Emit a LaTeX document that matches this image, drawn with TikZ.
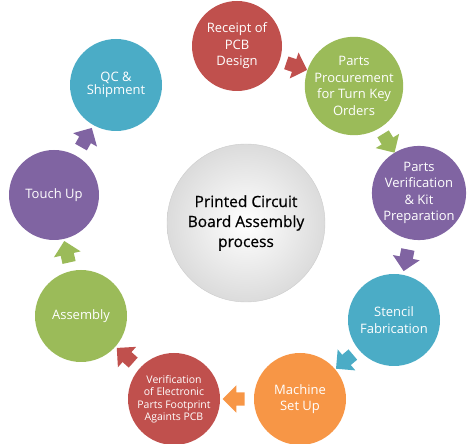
\documentclass[tikz,border=0pt]{standalone}
\usepackage{fontspec}
\setmainfont{Open Sans}
\newfontfamily\hubfont[FakeBold=0.6]{Open Sans}
\usepackage{xcolor}
\usepackage{tikz}
\usetikzlibrary{shapes.arrows}

\definecolor{pcbred}{HTML}{C0504D}
\definecolor{pcbgreen}{HTML}{9BBB59}
\definecolor{pcbpurple}{HTML}{8064A2}
\definecolor{pcbteal}{HTML}{4BACC6}
\definecolor{pcborange}{HTML}{F79646}

\begin{document}
\begin{tikzpicture}[x=1pt,y=1pt,
    stage/.style={circle,inner sep=0pt,text=white,align=center,
        font=\fontsize{13}{16.5}\selectfont},
    flow/.style={single arrow,draw=none,sloped,allow upside down,
        inner xsep=0pt,inner ysep=6.5pt,minimum height=22pt,
        single arrow head extend=7pt}]
    \useasboundingbox (0,0) rectangle (474,444);
    % Centre circle
    \node[circle,minimum size=158pt,draw=gray!40,inner color=white,outer color=gray!28,
        align=center,text=black,font=\hubfont\fontsize{15.5}{20}\selectfont] (hub) at (246,221)
        {Printed Circuit\\Board Assembly\\process};
    % Process stages
    \node[stage,fill=pcbred,minimum size=90pt] (rcpt) at (237,398) {Receipt of\\PCB\\Design};
    \node[stage,fill=pcbgreen,minimum size=90pt] (proc) at (354,358) {Parts\\Procurement\\for Turn Key\\Orders};
    \node[stage,fill=pcbpurple,minimum size=88pt] (verif) at (419,251) {Parts\\Verification\\\& Kit\\Preparation};
    \node[stage,fill=pcbteal,minimum size=92pt] (stncl) at (394,124) {Stencil\\Fabrication};
    \node[stage,fill=pcborange,minimum size=92pt] (mach) at (300,45) {Machine\\Set Up};
    \node[stage,fill=pcbred,minimum size=92pt,font=\fontsize{10.5}{12.5}\selectfont] (footp) at (174,45)
        {Verification\\of Electronic\\Parts Footprint\\Againts PCB};
    \node[stage,fill=pcbgreen,minimum size=92pt] (asmb) at (81,128) {Assembly};
    \node[stage,fill=pcbpurple,minimum size=90pt] (tchup) at (54,249) {Touch Up};
    \node[stage,fill=pcbteal,minimum size=92pt,font=\fontsize{13}{12.5}\selectfont] (qcsh) at (116,359) {QC \&\\Shipment};
    % Block arrows between stages
    \foreach \a/\b/\c in {rcpt/proc/pcbred,proc/verif/pcbgreen,verif/stncl/pcbpurple,
        stncl/mach/pcbteal,mach/footp/pcborange,footp/asmb/pcbred,
        asmb/tchup/pcbgreen,tchup/qcsh/pcbpurple}
        \path (\a) -- node[flow,fill=\c] {} (\b);
\end{tikzpicture}
\end{document}
